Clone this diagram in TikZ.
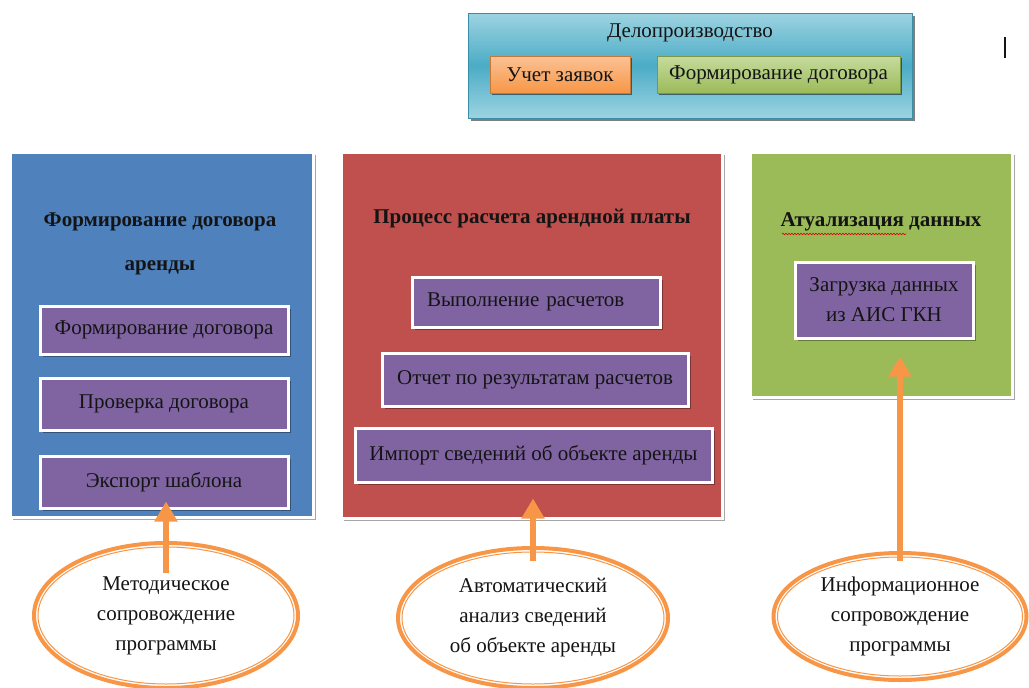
\documentclass[tikz,border=0pt]{standalone}
\usepackage{fontspec}
\setmainfont{Liberation Serif}
\usetikzlibrary{shapes.geometric,arrows.meta,shadows,calc,decorations.pathmorphing}
\definecolor{teal1}{HTML}{4BACC6}
\definecolor{teal2}{HTML}{9DD3E1}
\definecolor{tealedge}{HTML}{3A8FA8}
\definecolor{org1}{HTML}{F79646}
\definecolor{org2}{HTML}{FBC295}
\definecolor{grn1}{HTML}{9BBB59}
\definecolor{grn2}{HTML}{C6DB9E}
\definecolor{pblue}{HTML}{4F81BD}
\definecolor{pred}{HTML}{C0504D}
\definecolor{ppurp}{HTML}{8064A2}
\definecolor{txt}{HTML}{141414}
\newcommand{\fsz}{\fontsize{21}{30}\selectfont}
\tikzset{
  shd/.style={drop shadow={shadow xshift=2.5pt,shadow yshift=-2.5pt,fill=black,opacity=0.35}},
  panel/.style={rectangle,draw=white,line width=3pt,inner sep=0pt,shd},
  subbox/.style={rectangle,draw=white,line width=3pt,fill=ppurp,inner sep=0pt,
     font=\fsz,text=txt,align=center,shd},
  ttl/.style={font=\fsz\bfseries,text=txt,inner sep=0pt},
  plain/.style={font=\fsz,text=txt,inner sep=0pt},
  oval/.style={ellipse,draw=org1,line width=4pt,fill=white,inner sep=0pt,
     font=\fsz,text=txt,align=center},
  uparrow/.style={draw=org1,line width=6pt,-{Triangle[width=22pt,length=20pt]}},
  smallbtn/.style={rectangle,draw=#1!80!black,line width=0.6pt,inner sep=0pt,
     font=\fsz,text=txt,drop shadow={shadow xshift=2pt,shadow yshift=-2pt,fill=black,opacity=0.5}}
}
\begin{document}
\begin{tikzpicture}[x=1pt,y=-1pt]
\useasboundingbox (0,0) rectangle (1029,688);
% top box
\node[rectangle,draw=tealedge,line width=0.8pt,minimum width=444pt,minimum height=105pt,
  top color=teal2,bottom color=teal2,middle color=teal1,
  drop shadow={shadow xshift=2.5pt,shadow yshift=-2.5pt,fill=black,opacity=0.5}] (top) at (690,65.5) {};
\node[plain] (topt) at (690,33) {Делопроизводство};
\node[smallbtn=org1,minimum width=140pt,minimum height=37pt,top color=org2,bottom color=org1] (uch) at (560,74.5) {Учет заявок};
\node[smallbtn=grn1,minimum width=243pt,minimum height=37pt,top color=grn2,bottom color=grn1] (fd) at (778.5,74.5) {Формирование договора};
\draw[line width=1.3pt,txt] (1005,37) -- (1005,58);
% blue panel
\node[panel,fill=pblue,minimum width=303pt,minimum height=365pt] (blue) at (161.5,334.5) {};
\node[ttl] (bt1) at (160,222) {Формирование договора};
\node[ttl] (bt2) at (160,268) {аренды};
\node[subbox,minimum width=248pt,minimum height=48pt] (b1) at (164,330) {Формирование договора};
\node[subbox,minimum width=248pt,minimum height=52pt] (b2) at (164,404) {Проверка договора};
\node[subbox,minimum width=248pt,minimum height=52pt] (b3) at (164,482) {Экспорт шаблона};
% red panel
\node[panel,fill=pred,minimum width=381pt,minimum height=366pt] (red) at (531.5,335) {};
\node[ttl] (rt) at (532,219) {Процесс расчета арендной платы};
\node[subbox,minimum width=248pt,minimum height=50pt,text width=218pt,align=left,inner xsep=15pt] (r1) at (536,302) {Выполнение расчетов};
\node[subbox,minimum width=306pt,minimum height=53pt] (r2) at (535,379.5) {Отчет по результатам расчетов};
\node[subbox,minimum width=357pt,minimum height=54pt] (r3) at (533.5,455) {Импорт сведений об объекте аренды};
% green panel
\node[panel,fill=grn1,minimum width=262pt,minimum height=245pt] (green) at (881,274.5) {};
\node[ttl] (gt) at (881,222) {Атуализация данных};
\draw[red!85!black,line width=0.6pt,decorate,decoration={snake,amplitude=0.8pt,segment length=3pt}] (782,234) -- (906,234);
\node[subbox,minimum width=178pt,minimum height=76pt] (g1) at (884,300) {Загрузка данных\\из АИС ГКН};
% ellipses
\node[oval,minimum width=264pt,minimum height=145pt] (e1) at (166,615.5) {Методическое\\сопровождение\\программы};
\draw[org1,line width=1pt] (e1.center) ellipse (128pt and 68.5pt);
\node[oval,minimum width=270pt,minimum height=140pt] (e2) at (533,618) {Автоматический\\анализ сведений\\об объекте аренды};
\draw[org1,line width=1pt] (e2.center) ellipse (131pt and 66pt);
\node[oval,minimum width=253pt,minimum height=127pt] (e3) at (900,616.5) {Информационное\\сопровождение\\программы};
\draw[org1,line width=1pt] (e3.center) ellipse (122.5pt and 59.5pt);
% arrows
\draw[uparrow] ([yshift=-32pt]e1.north) -- ($(b3.south -| e1.north)+(0,8pt)$);
\draw[uparrow] ([yshift=-15pt]e2.north) -- ($(r3.south -| e2.north)+(0,-15pt)$);
\draw[uparrow] ([yshift=-10pt]e3.north) -- ($(g1.south -| e3.north)+(0,-17pt)$);
\end{tikzpicture}
\end{document}
